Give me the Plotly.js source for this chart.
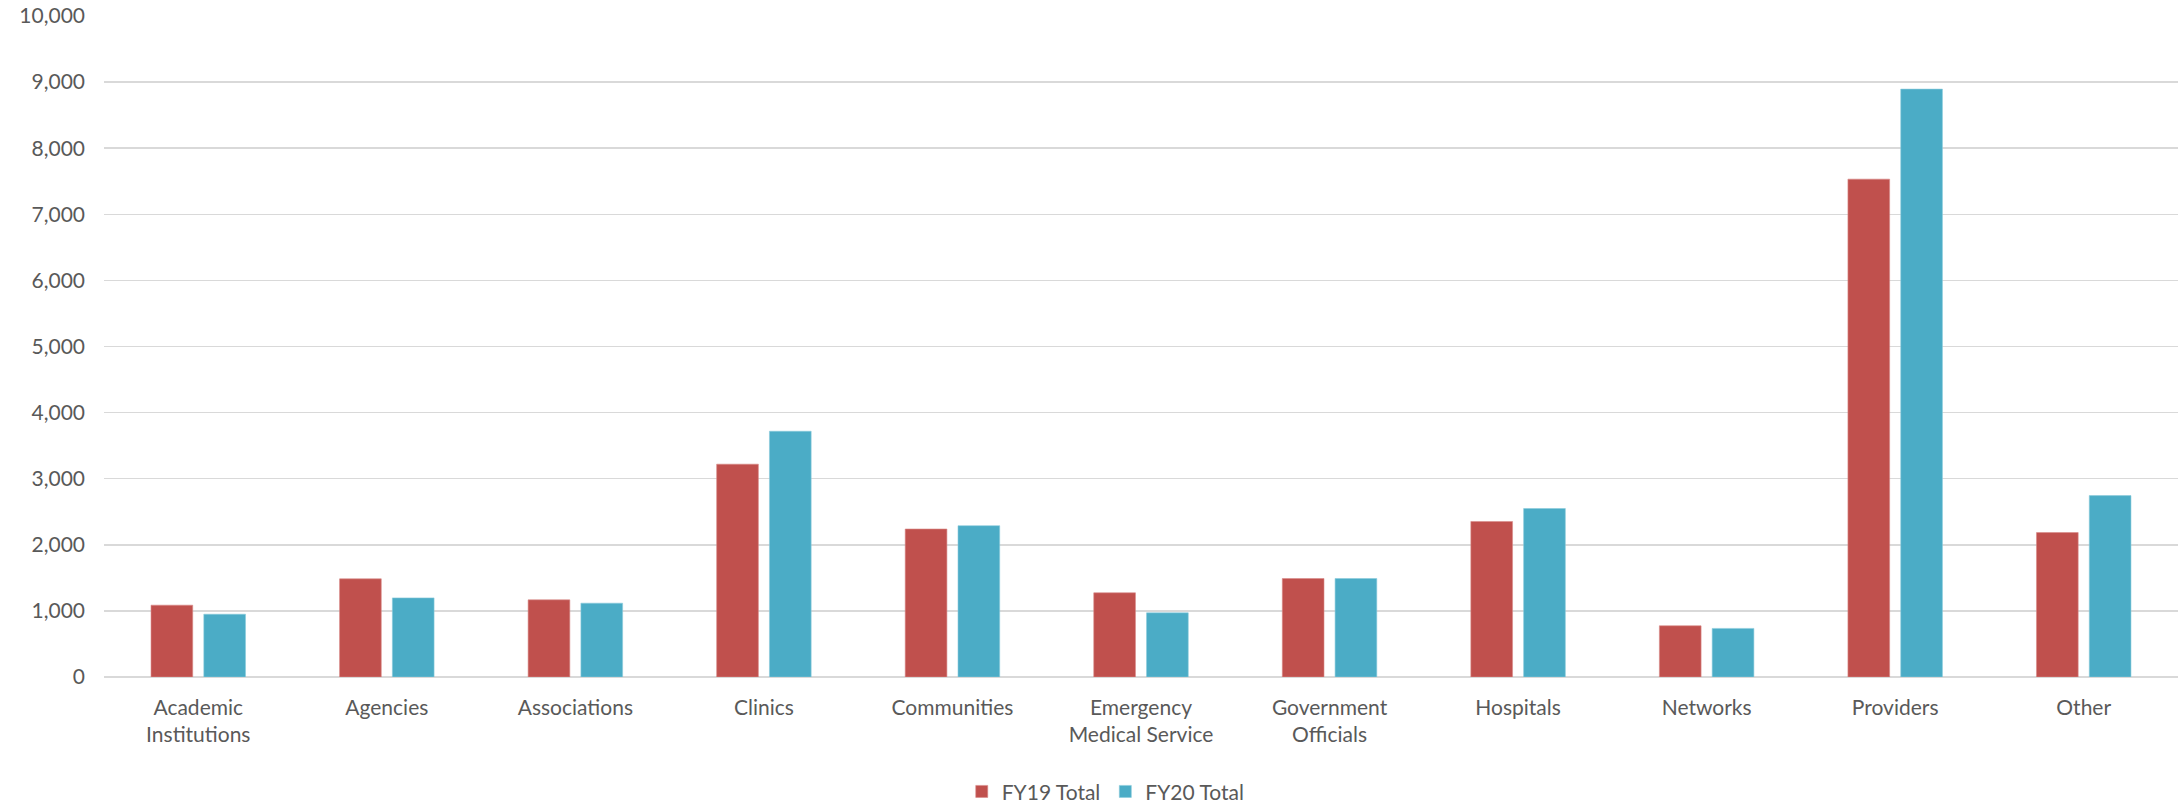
<!DOCTYPE html>
<html>
<head>
<meta charset="utf-8">
<script src="https://cdn.plot.ly/plotly-3.0.1.min.js"></script>
<style>
html,body{margin:0;padding:0;background:#fff;}
#chart{width:2178px;height:803px;}
</style>
</head>
<body>
<div id="chart"></div>
<script>
const categories = [
  "Academic<br>Institutions", "Agencies", "Associations", "Clinics", "Communities",
  "Emergency<br>Medical Service", "Government<br>Officials", "Hospitals", "Networks",
  "Providers", "Other"
];
const fy19 = [1087, 1485, 1167, 3220, 2239, 1274, 1490, 2353, 775, 7532, 2185];
const fy20 = [950, 1197, 1117, 3718, 2289, 971, 1490, 2549, 735, 8894, 2744];
const seriesNames = ["FY19 Total", "FY20 Total"];
const tickVals = [0, 1000, 2000, 3000, 4000, 5000, 6000, 7000, 8000, 9000, 10000];

const font = "Lato, 'Open Sans', sans-serif";

const traces = [
  {type: "bar", name: seriesNames[0], x: categories, y: fy19,
   marker: {color: "#C0504D", line: {color: "#D98A88", width: 0.6}}},
  {type: "bar", name: seriesNames[1], x: categories, y: fy20,
   marker: {color: "#4BACC6", line: {color: "#8ACBDC", width: 0.6}}}
];

const layout = {
  width: 2178, height: 803,
  margin: {l: 104, r: 0, t: 16, b: 126, autoexpand: false},
  paper_bgcolor: "#fff", plot_bgcolor: "#fff",
  barmode: "group", bargap: 0.44, bargroupgap: 0.21,
  font: {family: font, size: 21, color: "#595959"},
  showlegend: true,
  hovermode: false,
  legend: {orientation: "h", x: 0.483, xanchor: "center",
           yref: "container", y: 0.014, yanchor: "middle",
           font: {family: font, size: 21, color: "#595959"}, itemwidth: 30, traceorder: "normal"},
  xaxis: {
    showgrid: false, zeroline: false, showline: false, ticks: "",
    automargin: false,
    tickfont: {family: font, size: 21, color: "#595959"},
    ticklabelstandoff: 16
  },
  yaxis: {
    range: [0, 10000], tickvals: tickVals, tickformat: ",d",
    automargin: false,
    showgrid: true, gridcolor: "#D9D9D9", gridwidth: 1.5,
    zeroline: true, zerolinecolor: "#D9D9D9", zerolinewidth: 1.5,
    showline: false, ticks: "",
    tickfont: {family: font, size: 21, color: "#595959"},
    ticklabelstandoff: 18
  }
};

Plotly.newPlot("chart", traces, layout, {displayModeBar: false, staticPlot: true});
</script>
</body>
</html>
